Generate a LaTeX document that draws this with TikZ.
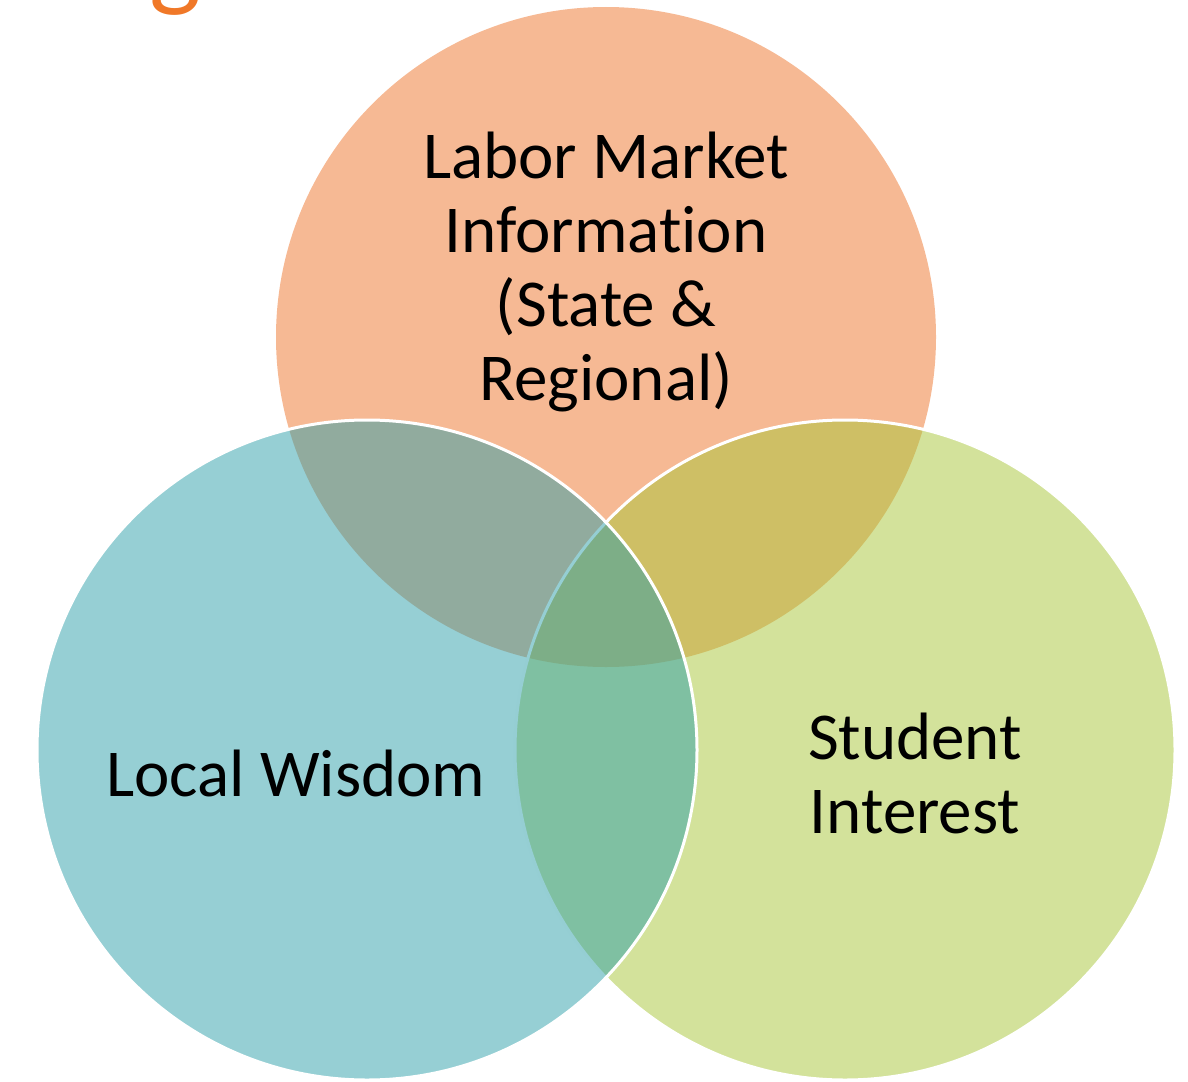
\documentclass[tikz,border=0pt]{standalone}
\usepackage{fontspec}
\setmainfont{Carlito}[Ligatures=NoCommon]
\usetikzlibrary{positioning}

\definecolor{lmiorange}{RGB}{246,185,148}
\definecolor{wisdomblue}{RGB}{45,159,169}
\definecolor{interestgreen}{RGB}{167,197,55}
\definecolor{titleorange}{RGB}{240,120,40}

\begin{document}
\begin{tikzpicture}[
					x=1pt, y=-1pt,
					set/.style={circle, minimum size=660pt, inner sep=0pt},
					overlay set/.style={set, draw=white, line width=3pt, fill opacity=0.5},
					label text/.style={align=center, font=\fontsize{67}{74}\selectfont}
					]
					\clip (0,0) rectangle (1188,1081);
					% cut-off title above the diagram
					\node[anchor=base, text=titleorange, font=\fontsize{110}{120}\selectfont] (title) at (175,-3) {g};
					% the three sets
					\node[set, fill=lmiorange] (lmi) at (606,337) {};
					\node[overlay set, fill=interestgreen] (interest) at (845,750) {};
					\node[overlay set, fill=wisdomblue] (wisdom) at (367,750) {};
					% labels
					\node[label text] (lmitext) at (606,272) {Labor Market\\Information\\(State \&\\Regional)};
					\node[label text] (wisdomtext) at (296,773) {Local Wisdom};
					\node[label text] (interesttext) at (915,773) {Student\\Interest};
				\end{tikzpicture}
\end{document}
